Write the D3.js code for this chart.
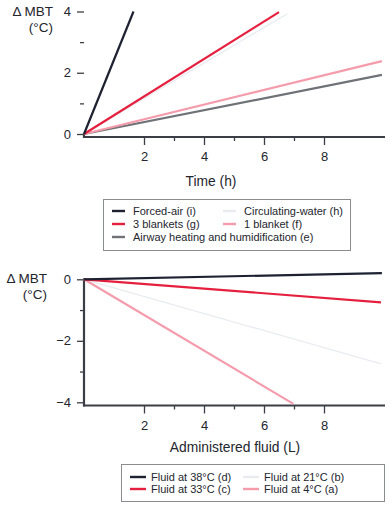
<!DOCTYPE html>
<html><head><meta charset="utf-8">
<script src="https://cdn.jsdelivr.net/npm/d3@7"></script>
<style>
body{margin:0;background:#fff;}
svg text{font-family:"Liberation Sans",Arial,Helvetica,sans-serif;fill:#23262d;}
</style></head>
<body><svg id="c" width="392" height="508"></svg>
<script>
// ---- data ----
const topXTicks = [2,4,6,8];
const topXMinor = [3,5,7];
const topYTicks = [0,2,4];
const topYMinor = [1,3];
const topSeries = ["Forced-air (i)","3 blankets (g)","Airway heating and humidification (e)","Circulating-water (h)","1 blanket (f)"];
const topEndX = [1.65, 6.5, 9.93, 6.78, 9.93];
const topEndY = [4.0, 3.98, 1.93, 3.93, 2.38];

const botXTicks = [2,4,6,8];
const botXMinor = [3,5,7];
const botYTicks = [0,-2,-4];
const botYMinor = [-1,-3];
const botSeries = ["Fluid at 38°C (d)","Fluid at 33°C (c)","Fluid at 21°C (b)","Fluid at 4°C (a)"];
const botEndX = [9.93, 9.9, 9.9, 6.98];
const botEndY = [0.2, -0.75, -2.75, -4.05];

const topColors = ["#1d2131","#e5203e","#6f7277","#e8ebf0","#f59cac"];
const topWidths = [2.2,2.2,2.2,1.2,2.2];
const botColors = ["#1d2131","#e5203e","#e8ebf0","#f59cac"];
const botWidths = [2.2,2.2,1.2,2.2];

const svg = d3.select("#c");
const axisColor = "#3b3e45";

function panel(o){
  const x = d3.scaleLinear().domain([0,10]).range([84,384]);
  const y = d3.scaleLinear().domain(o.ydom).range(o.yrange);
  const g = svg.append("g");
  const axisY = o.axisY; // pixel y of x-axis line
  // x axis
  const gx = g.append("g").attr("transform",`translate(0,${axisY})`);
  gx.call(d3.axisBottom(x).tickValues(o.xt).tickSize(8).tickPadding(7).tickFormat(d3.format("d")));
  gx.append("g").call(d3.axisBottom(x).tickValues(o.xm).tickSize(4).tickFormat(""));
  gx.selectAll(".domain").remove();
  gx.selectAll("line").attr("stroke",axisColor).attr("stroke-width",1.3);
  gx.selectAll("text").attr("font-size",13).style("fill","#23262d");
  // y axis
  const gy = g.append("g").attr("transform","translate(84,0)");
  gy.call(d3.axisLeft(y).tickValues(o.yt).tickSize(7).tickPadding(6).tickFormat(d=>d<0?"\u2212"+Math.abs(d):d));
  gy.append("g").call(d3.axisLeft(y).tickValues(o.ym).tickSize(4).tickFormat(""));
  gy.selectAll(".domain").remove();
  gy.selectAll("line").attr("stroke",axisColor).attr("stroke-width",1.3);
  gy.selectAll("text").attr("font-size",13).style("fill","#23262d");
  // axis lines
  g.append("line").attr("x1",84).attr("x2",84).attr("y1",y.range()[0]-1).attr("y2",axisY+1)
    .attr("stroke",axisColor).attr("stroke-width",2.2);
  g.append("line").attr("x1",83).attr("x2",385).attr("y1",axisY).attr("y2",axisY)
    .attr("stroke",axisColor).attr("stroke-width",2.2);
  // series
  const line = d3.line().x(d=>x(d[0])).y(d=>y(d[1]));
  o.order.forEach(i=>{
    g.append("path").datum([[0,0],[o.ex[i],o.ey[i]]]).attr("d",line)
      .attr("fill","none").attr("stroke",o.colors[i]).attr("stroke-width",o.widths[i]);
  });
  // y title
  g.append("text").attr("x",o.titleX).attr("y",o.titleY).attr("text-anchor","end").attr("font-size",13.5).text("\u0394 MBT");
  g.append("text").attr("x",o.titleX).attr("y",o.titleY+16).attr("text-anchor","end").attr("font-size",13.5).text("(°C)");
  // x title
  g.append("text").attr("x",o.xtX).attr("y",o.xtY).attr("text-anchor","middle").attr("font-size",13.8).text(o.xtitle);
  // legend
  const L = o.legend;
  g.append("rect").attr("x",L.x).attr("y",L.y).attr("width",L.w).attr("height",L.h)
    .attr("fill","#fff").attr("stroke","#8a8c90").attr("stroke-width",1);
  L.items.forEach(it=>{
    const lx = L.cols[it.col], ly = L.rows[it.row];
    g.append("line").attr("x1",lx).attr("x2",lx+L.sw).attr("y1",ly).attr("y2",ly)
      .attr("stroke",o.colors[it.i]).attr("stroke-width",2.4);
    g.append("text").attr("x",lx+L.sw+L.gap).attr("y",ly+4).attr("font-size",11).text(o.names[it.i]);
  });
}

panel({
  ydom:[0,4], yrange:[134,11.5], axisY:137,
  xt:topXTicks, xm:topXMinor, yt:topYTicks, ym:topYMinor,
  ex:topEndX, ey:topEndY, colors:topColors, widths:topWidths, names:topSeries,
  order:[3,2,4,1,0],
  titleX:53, titleY:16, xtitle:"Time (h)", xtX:211, xtY:186,
  legend:{x:103.5,y:199.5,w:247,h:51, rows:[211,224,237], cols:[112,223], sw:13, gap:8,
    items:[{i:0,row:0,col:0},{i:3,row:0,col:1},{i:1,row:1,col:0},{i:4,row:1,col:1},{i:2,row:2,col:0}]}
});
panel({
  ydom:[0,-4], yrange:[279.3,402.3], axisY:405.5,
  xt:botXTicks, xm:botXMinor, yt:botYTicks, ym:botYMinor,
  ex:botEndX, ey:botEndY, colors:botColors, widths:botWidths, names:botSeries,
  order:[2,3,1,0],
  titleX:47, titleY:283, xtitle:"Administered fluid (L)", xtX:235, xtY:452,
  legend:{x:121.5,y:464.5,w:263,h:37, rows:[477,489], cols:[130,243], sw:16, gap:5,
    items:[{i:0,row:0,col:0},{i:2,row:0,col:1},{i:1,row:1,col:0},{i:3,row:1,col:1}]}
});
</script></body></html>
